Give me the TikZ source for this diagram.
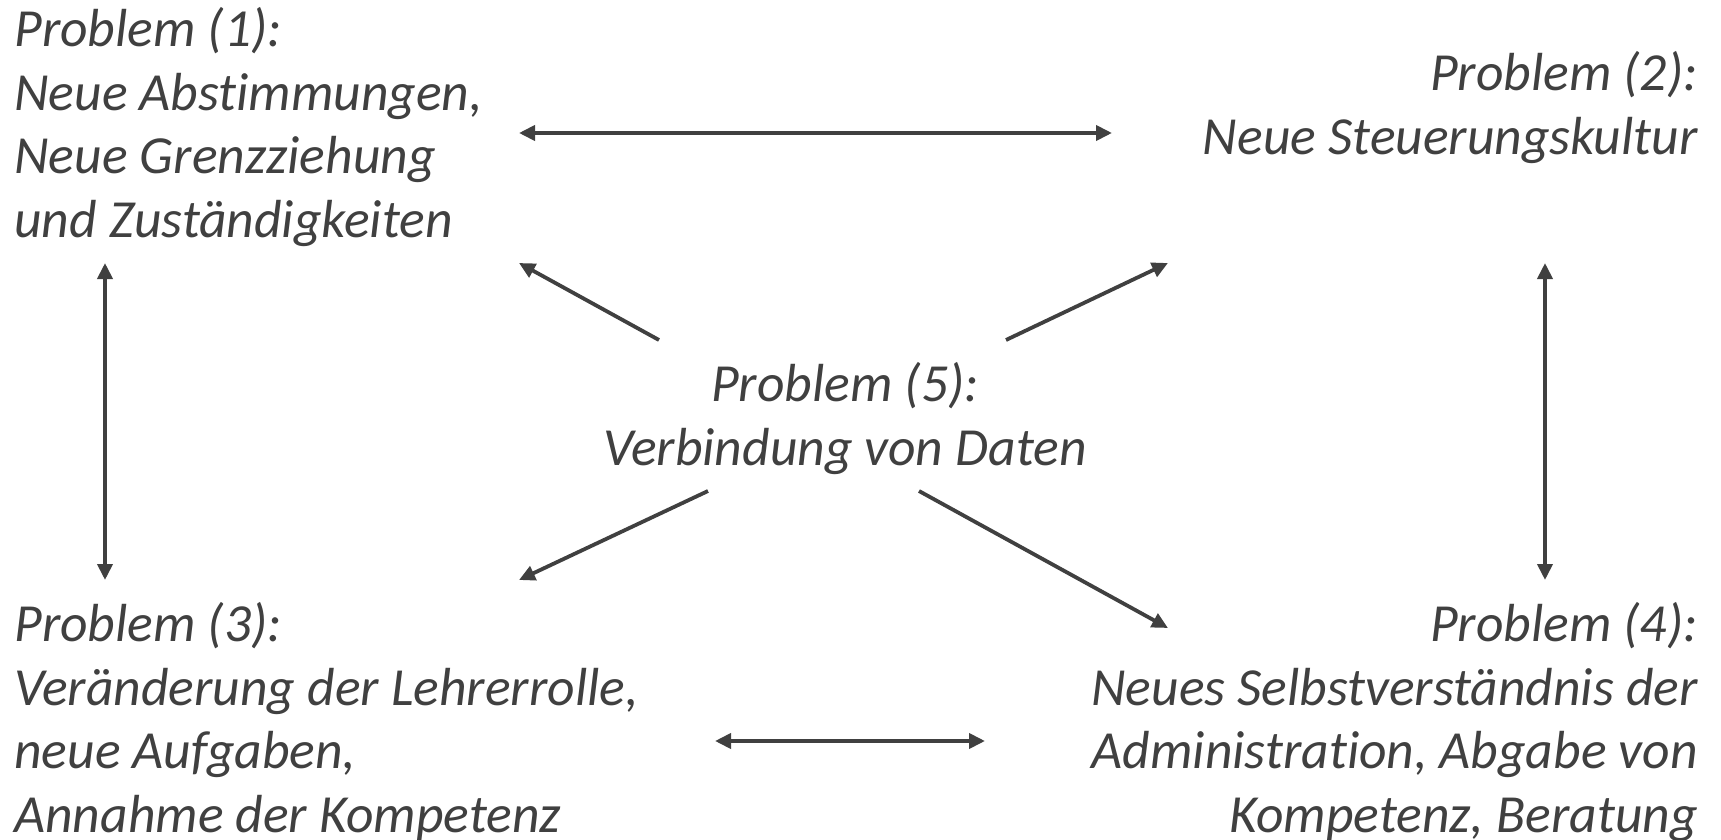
\documentclass[tikz,border=0pt]{standalone}
\usepackage{fontspec}
\setmainfont{Carlito}[Ligatures=NoCommon]
\usepackage{tikz}
\usetikzlibrary{positioning,arrows.meta}
\definecolor{dgray}{HTML}{404040}

\tikzset{
  problem/.style={inner sep=0pt, text=dgray, font=\fontsize{26.8pt}{31.8pt}\selectfont\itshape},
  link/.style={dgray, line width=1.9pt, {Triangle[length=8pt,width=7.5pt]}-{Triangle[length=8pt,width=7.5pt]}},
  onelink/.style={dgray, line width=1.9pt, -{Triangle[length=8pt,width=7.5pt]}}
}

\begin{document}
\begin{tikzpicture}[x=0.5pt,y=-0.5pt]
\useasboundingbox (0,0) rectangle (1721,840);
% the five problems
\node[problem, anchor=north west, align=left] (p1) at (14,7)
  {Problem (1):\\Neue Abstimmungen,\\Neue Grenzziehung\\und Zuständigkeiten};
\node[problem, anchor=north east, align=right] (p2) at (1698,51)
  {Problem (2):\\Neue Steuerungskultur};
\node[problem, anchor=north west, align=left] (p3) at (14,602)
  {Problem (3):\\Veränderung der Lehrerrolle,\\neue Aufgaben,\\Annahme der Kompetenz};
\node[problem, anchor=north east, align=right] (p4) at (1698,602)
  {Problem (4):\\Neues Selbstverständnis der\\Administration, Abgabe von\\Kompetenz, Beratung};
\node[problem, anchor=north, align=center] (p5) at (845,362)
  {Problem (5):\\Verbindung von Daten};
% arrow ends
\coordinate (t1) at (519,133);
\coordinate (t2) at (1112,133);
\coordinate (l1) at (105,263);
\coordinate (l3) at (105,580);
\coordinate (r2) at (1545,263);
\coordinate (r4) at (1545,580);
\coordinate (b3) at (715,741);
\coordinate (b4) at (985,741);
\coordinate (s1) at (659,340);
\coordinate (e1) at (519,263);
\coordinate (s2) at (1006,340);
\coordinate (e2) at (1168,263);
\coordinate (s3) at (708,491);
\coordinate (e3) at (519,580);
\coordinate (s4) at (919,491);
\coordinate (e4) at (1168,628);
% connections
\draw[link] (t1) -- (t2);
\draw[link] (l1) -- (l3);
\draw[link] (r2) -- (r4);
\draw[link] (b3) -- (b4);
\draw[onelink] (s1) -- (e1);
\draw[onelink] (s2) -- (e2);
\draw[onelink] (s3) -- (e3);
\draw[onelink] (s4) -- (e4);
\end{tikzpicture}
\end{document}
